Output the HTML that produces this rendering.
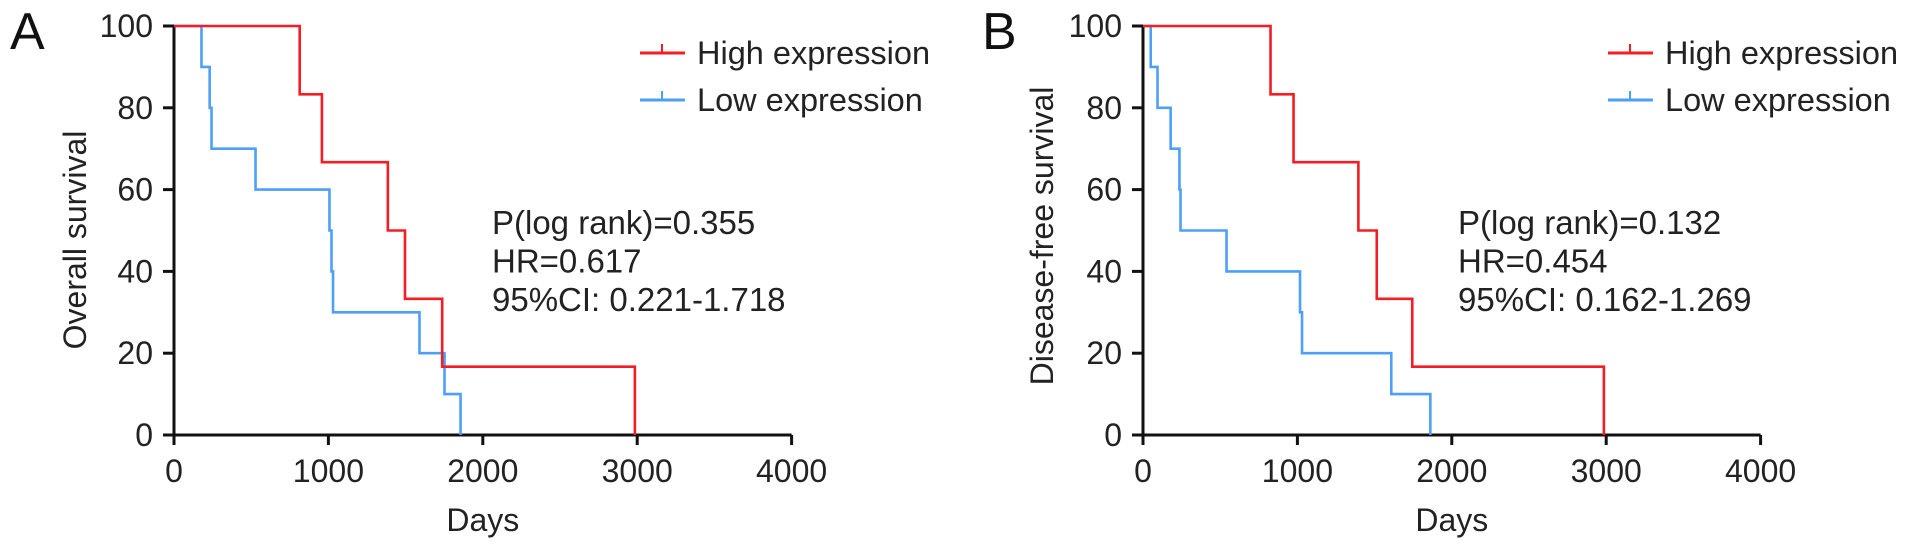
<!DOCTYPE html>
<html><head><meta charset="utf-8"><style>
html,body{margin:0;padding:0;background:#fff;width:1913px;height:551px;overflow:hidden}
svg{display:block;font-family:"Liberation Sans",Arial,sans-serif}
</style></head><body>
<svg id="chart" width="1913" height="551" viewBox="0 0 1913 551" xmlns="http://www.w3.org/2000/svg"></svg>
<script>
const xTicks=[0,1000,2000,3000,4000];
const yTicks=[0,20,40,60,80,100];
const highTimesA=[0,814,958,1385,1496,1737,2985];
const highSurvA=[100,83.3,66.7,50,33.3,16.7,0];
const lowTimesA=[0,178,231,243,528,1007,1020,1030,1590,1752,1856];
const lowSurvA=[100,90,80,70,60,50,40,30,20,10,0];
const highTimesB=[0,826,975,1395,1514,1744,2985];
const highSurvB=[100,83.3,66.7,50,33.3,16.7,0];
const lowTimesB=[0,50,94,179,236,243,541,1017,1030,1608,1861];
const lowSurvB=[100,90,80,70,60,50,40,30,20,10,0];
const statsA=["P(log rank)=0.355","HR=0.617","95%CI: 0.221-1.718"];
const statsB=["P(log rank)=0.132","HR=0.454","95%CI: 0.162-1.269"];
const NS="http://www.w3.org/2000/svg";
const svg=document.getElementById('chart');
function mk(tag,attrs,parent,text){const e=document.createElementNS(NS,tag);for(const k in attrs)e.setAttribute(k,attrs[k]);if(text!==undefined)e.textContent=text;(parent||svg).appendChild(e);return e;}
function panel(p){
  const x=d=>p.x0+d*154.4/1000;
  const y=v=>435-v*4.09;
  const g=mk('g',{});
  
  
  let t=mk('text',{x:p.lx,y:49,'font-size':52,fill:'#111'},g,p.letter);
  
  let ax=mk('path',{d:`M${x(0)},${y(100)-1}V${y(0)}H${x(4000)}`,stroke:'#111','stroke-width':3,fill:'none'},g);
  
  xTicks.forEach(v=>{
    mk('line',{x1:x(v),x2:x(v),y1:y(0),y2:y(0)+10,stroke:'#111','stroke-width':3},g);
    const l=mk('text',{x:x(v),y:482,'font-size':32,'text-anchor':'middle',fill:'#222'},g,String(v));
    
  });
  yTicks.forEach(v=>{
    mk('line',{x1:x(0)-11,x2:x(0),y1:y(v),y2:y(v),stroke:'#111','stroke-width':3},g);
    const l=mk('text',{x:x(0)-21,y:y(v)+11,'font-size':32,'text-anchor':'end',fill:'#222'},g,String(v));
    
  });
  let xt=mk('text',{x:x(2000),y:531,'font-size':32,'text-anchor':'middle',fill:'#222'},g,'Days');
  
  let yt=mk('text',{x:0,y:0,'font-size':32,'text-anchor':'middle',fill:'#222',transform:`translate(${p.ytx},${p.yty}) rotate(-90)`},g,p.ytitle);
  
  function curve(ts,ss,color,name){
    let d=`M${x(ts[0])},${y(ss[0])}`;
    for(let i=1;i<ts.length;i++){d+=`H${x(ts[i])}V${y(ss[i])}`;}
    const c=mk('path',{d:d,stroke:color,'stroke-width':2.6,fill:'none'},g);
    
  }
  curve(p.lt,p.ls,'#4da0f5',p.id+'-low-expression-curve');
  curve(p.ht,p.hs,'#f41d24',p.id+'-high-expression-curve');
  [['High expression','#f41d24',53],['Low expression','#4da0f5',100]].forEach(([lab,col,ly])=>{
    const lg=mk('g',{},g);
    
    mk('line',{x1:p.legx,x2:p.legx+45,y1:ly,y2:ly,stroke:col,'stroke-width':3},lg);
    mk('line',{x1:p.legx+22,x2:p.legx+22,y1:ly-9,y2:ly,stroke:col,'stroke-width':2},lg);
    mk('text',{x:p.legx+57,y:ly+11,'font-size':32.5,fill:'#222'},lg,lab);
  });
  p.stats.forEach((s,i)=>{
    const st=mk('text',{x:p.sx,y:234+i*38.5,'font-size':33,fill:'#222'},g,s);
    
  });
}
panel({id:'a',letter:'A',lx:10,x0:174,ytitle:'Overall survival',ytx:86,yty:240,legx:640,sx:492,stats:statsA,ht:highTimesA,hs:highSurvA,lt:lowTimesA,ls:lowSurvA});
panel({id:'b',letter:'B',lx:982,x0:1143,ytitle:'Disease-free survival',ytx:1053,yty:236,legx:1608,sx:1458,stats:statsB,ht:highTimesB,hs:highSurvB,lt:lowTimesB,ls:lowSurvB});
</script>
</body></html>
